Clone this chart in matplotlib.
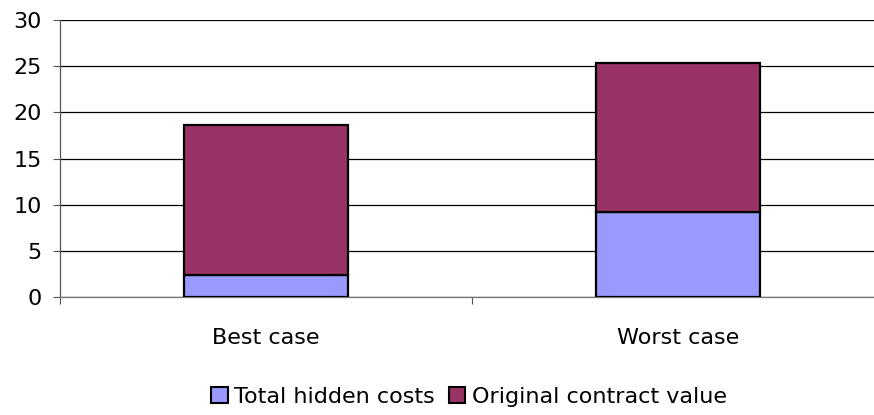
import matplotlib
matplotlib.use("Agg")
import matplotlib.pyplot as plt
from matplotlib.patches import Patch

categories = ["Best case", "Worst case"]
hidden_costs = [2.4, 9.2]
original_value = [16.2, 16.1]
series_names = ["Total hidden costs", "Original contract value"]
colors = ["#9999FF", "#993366"]
yticks = [0, 5, 10, 15, 20, 25, 30]

plt.rcParams['font.family'] = ['DejaVu Sans']
FS = 16

fig = plt.figure(figsize=(8.74, 4.15), dpi=100)
ax = fig.add_axes([60/874, 118/415, 824/874, 277/415])

x = list(range(len(categories)))
ax.bar(x, hidden_costs, width=0.4, color=colors[0], edgecolor="black", linewidth=1.6, zorder=3)
ax.bar(x, original_value, width=0.4, bottom=hidden_costs, color=colors[1], edgecolor="black", linewidth=1.6, zorder=3)

ax.set_xlim(-0.5, 1.5)
ax.set_ylim(0, 30)
ax.set_yticks(yticks)
ax.set_yticklabels([str(v) for v in yticks], fontsize=FS)
ax.yaxis.grid(True, color="black", linewidth=0.9, zorder=0)
ax.set_axisbelow(True)

ax.set_xticks([-0.5, 0.5, 1.5])
ax.set_xticklabels([])
ax.set_xticks(x, minor=True)
ax.set_xticklabels(categories, minor=True, fontsize=FS)
ax.tick_params(axis="x", which="minor", length=0, pad=22)
ax.tick_params(axis="x", which="major", length=5, width=0.8, color="#555555")
ax.tick_params(axis="y", length=5, width=0.8, color="#555555", pad=8)

for s in ["top", "right"]:
    ax.spines[s].set_visible(False)
ax.spines["left"].set_color("#555555")
ax.spines["bottom"].set_color("#777777")
ax.spines["left"].set_linewidth(0.9)
ax.spines["bottom"].set_linewidth(0.9)

handles = [Patch(facecolor=c, edgecolor="black", linewidth=1.5) for c in colors]
fig.legend(handles, series_names, loc="center", bbox_to_anchor=(469/874, 1 - 397/415),
           ncol=2, frameon=False, fontsize=FS, handlelength=0.75, handleheight=0.75,
           handletextpad=0.3, columnspacing=0.6, borderaxespad=0)

fig.savefig("out.png", dpi=100)
